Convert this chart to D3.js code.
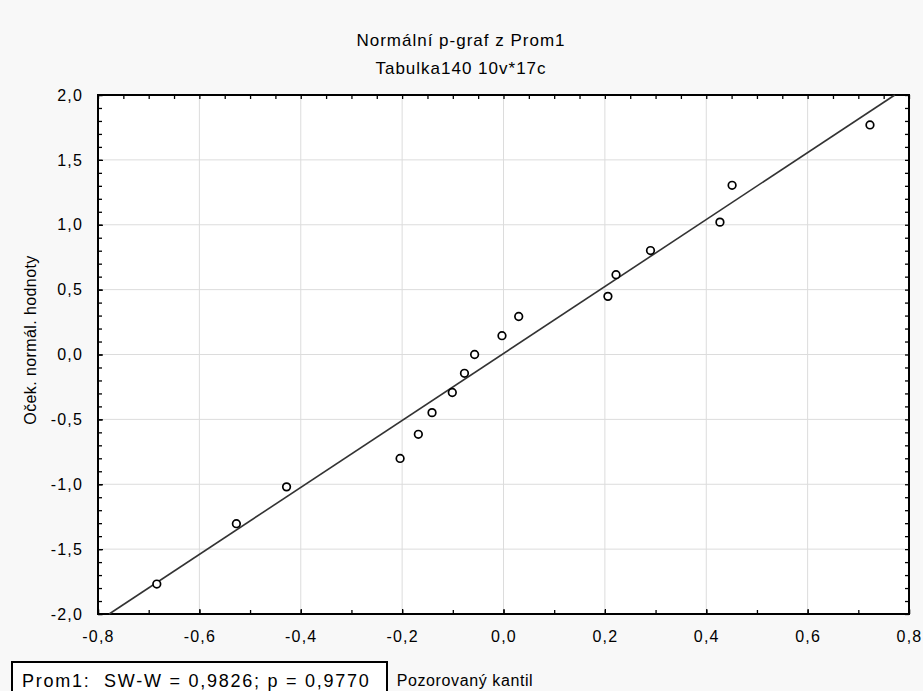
<!DOCTYPE html>
<meta charset="utf-8">
<script src="https://d3js.org/d3.v7.min.js"></script>
<style>
  body { margin: 0; }
  text { font-family: "Liberation Sans", Arial, sans-serif; fill: #000; }
</style>
<div id="chart"></div>
<script>
const observed = [-0.684, -0.527, -0.428, -0.204, -0.168, -0.141, -0.101, -0.077, -0.057,
                  -0.003, 0.030, 0.206, 0.222, 0.290, 0.427, 0.451, 0.723];
const expected = [-1.769, -1.304, -1.020, -0.801, -0.615, -0.448, -0.293, -0.145, 0.000,
                  0.145, 0.293, 0.448, 0.615, 0.801, 1.020, 1.304, 1.769];
// reference line: expected = (observed - lineMean) / lineSd
const lineMean = -0.003;
const lineSd = 0.3875;

const xTicks = [-0.8, -0.6, -0.4, -0.2, 0.0, 0.2, 0.4, 0.6, 0.8];
const yTicks = [-2.0, -1.5, -1.0, -0.5, 0.0, 0.5, 1.0, 1.5, 2.0];

const titleText = "Normální p-graf z Prom1";
const subtitleText = "Tabulka140 10v*17c";
const xLabel = "Pozorovaný kantil";
const yLabel = "Oček. normál. hodnoty";
const statText = "Prom1:  SW-W = 0,9826; p = 0,9770";

const W = 923, H = 691;
const margin = {top: 95, right: 14, bottom: 77, left: 98},
      width = W - margin.left - margin.right,
      height = H - margin.top - margin.bottom;

const locale = d3.formatLocale({decimal: ",", thousands: " ", grouping: [3], currency: ["", ""], minus: "-"});
const fmt = locale.format(".1f");

const svg0 = d3.select("#chart").append("svg")
  .attr("width", W)
  .attr("height", H);

svg0.append("rect").attr("width", W).attr("height", H).attr("fill", "#f8f8f8");

const svg = svg0.append("g")
  .attr("transform", `translate(${margin.left},${margin.top})`);

svg.append("rect").attr("width", width).attr("height", height).attr("fill", "#fff");

const x = d3.scaleLinear().domain([-0.8, 0.8]).range([0, width]);
const y = d3.scaleLinear().domain([-2, 2]).range([height, 0]);

// grid
svg.append("g")
  .selectAll("line")
  .data(xTicks.slice(1, -1))
  .join("line")
    .attr("x1", d => x(d)).attr("x2", d => x(d))
    .attr("y1", 0).attr("y2", height)
    .attr("stroke", "#dcdcdc").attr("stroke-width", 1);
svg.append("g")
  .selectAll("line")
  .data(yTicks.slice(1, -1))
  .join("line")
    .attr("y1", d => y(d)).attr("y2", d => y(d))
    .attr("x1", 0).attr("x2", width)
    .attr("stroke", "#dcdcdc").attr("stroke-width", 1);

// minor tick values
const xMinorBottom = d3.range(-8, 9).map(i => i / 10);
const xMinorTop = d3.range(-16, 17).map(i => i / 20);
const yMinor = d3.range(-20, 21).map(i => i / 10);

function styleAxis(g) {
  g.select(".domain").remove();
  g.selectAll(".tick line").attr("stroke", "#000").attr("stroke-width", 1.3);
  g.selectAll("text").attr("font-size", 16).attr("letter-spacing", 1.2)
    .attr("font-family", "Liberation Sans, Arial, sans-serif").attr("fill", "#000");
}

// bottom axis
svg.append("g")
  .attr("transform", `translate(0,${height})`)
  .call(d3.axisBottom(x).tickValues(xMinorBottom).tickSize(-4).tickFormat(""))
  .call(styleAxis);
svg.append("g")
  .attr("transform", `translate(0,${height})`)
  .call(d3.axisBottom(x).tickValues(xTicks).tickSize(-5).tickPadding(17).tickFormat(fmt))
  .call(styleAxis);

// top axis (ticks only)
svg.append("g")
  .call(d3.axisTop(x).tickValues(xMinorTop).tickSize(-4).tickFormat(""))
  .call(styleAxis);

// left axis
svg.append("g")
  .call(d3.axisLeft(y).tickValues(yMinor).tickSize(-4).tickFormat(""))
  .call(styleAxis);
svg.append("g")
  .call(d3.axisLeft(y).tickValues(yTicks).tickSize(-5).tickPadding(15).tickFormat(fmt))
  .call(styleAxis);

// right axis (ticks only)
svg.append("g")
  .attr("transform", `translate(${width},0)`)
  .call(d3.axisRight(y).tickValues(yMinor).tickSize(-4).tickFormat(""))
  .call(styleAxis);

// frame
svg.append("rect")
  .attr("width", width).attr("height", height)
  .attr("fill", "none").attr("stroke", "#000").attr("stroke-width", 2);

// reference line
svg.append("line")
  .attr("x1", x(lineMean + (-2) * lineSd)).attr("y1", y(-2))
  .attr("x2", x(lineMean + 2 * lineSd)).attr("y2", y(2))
  .attr("stroke", "#333").attr("stroke-width", 1.6);

// points
svg.append("g")
  .selectAll("circle")
  .data(observed.map((v, i) => ({x: v, y: expected[i]})))
  .join("circle")
    .attr("cx", d => x(d.x))
    .attr("cy", d => y(d.y))
    .attr("r", 3.8)
    .attr("fill", "#fff")
    .attr("stroke", "#000")
    .attr("stroke-width", 1.7);

// titles
svg0.append("text")
  .attr("x", 461).attr("y", 46)
  .attr("text-anchor", "middle")
  .attr("font-size", 17).attr("letter-spacing", 1)
  .text(titleText);
svg0.append("text")
  .attr("x", 461).attr("y", 74)
  .attr("text-anchor", "middle")
  .attr("font-size", 17).attr("letter-spacing", 1)
  .text(subtitleText);

// axis labels
svg0.append("text")
  .attr("x", 465).attr("y", 686)
  .attr("text-anchor", "middle")
  .attr("font-size", 16).attr("letter-spacing", 0.6)
  .text(xLabel);
svg0.append("text")
  .attr("transform", "translate(36,340) rotate(-90)")
  .attr("text-anchor", "middle")
  .attr("font-size", 16).attr("letter-spacing", 0.4)
  .text(yLabel);

// stats box
svg0.append("rect")
  .attr("x", 12).attr("y", 662).attr("width", 375).attr("height", 40)
  .attr("fill", "#fff").attr("stroke", "#000").attr("stroke-width", 2);
svg0.append("text")
  .attr("x", 22).attr("y", 687)
  .attr("font-size", 18).attr("letter-spacing", 1.75)
  .style("white-space", "pre")
  .text(statText);
</script>
